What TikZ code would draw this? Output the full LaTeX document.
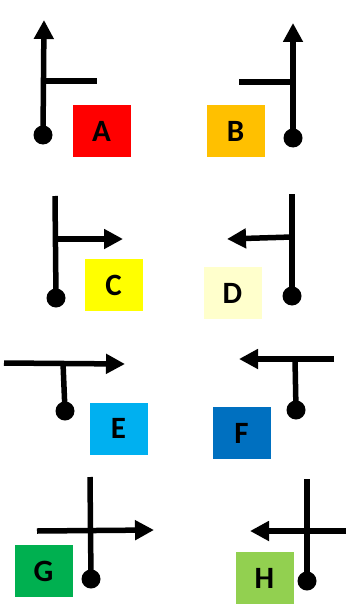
\documentclass[tikz,border=0pt]{standalone}
\usepackage{fontspec}
\setmainfont{Carlito}
\usetikzlibrary{arrows.meta}
\definecolor{signA}{RGB}{255,0,0}
\definecolor{signB}{RGB}{255,192,0}
\definecolor{signC}{RGB}{255,255,0}
\definecolor{signD}{RGB}{255,255,204}
\definecolor{signE}{RGB}{0,176,240}
\definecolor{signF}{RGB}{0,112,192}
\definecolor{signG}{RGB}{0,176,80}
\definecolor{signH}{RGB}{146,208,80}

\begin{document}
\begin{tikzpicture}[x=1pt,y=-1pt]

%
% Styles
%
\tikzstyle{tag} = [rectangle,minimum width=58pt,minimum height=52pt,inner sep=0pt,font=\fontsize{31}{31}\selectfont\bfseries]
\tikzstyle{endpt} = [circle,fill=black,minimum size=19pt,inner sep=0pt]
\tikzstyle{road} = [line width=5.5pt]
\tikzstyle{go} = [road,-{Triangle[length=19pt,width=19pt]}]

\useasboundingbox (0,0) rectangle (351,607);

% A
\node[tag,fill=signA] (A) at (101.5,131) {A};
\node[endpt] (a0) at (43,135) {};
\coordinate (a1) at (44,20);
\coordinate (a2) at (44,81);
\coordinate (a3) at (97,81);
\draw[go] (a0.center) -- (a1);
\draw[road] (a2) -- (a3);

% B
\node[tag,fill=signB] (B) at (235.5,131) {B};
\node[endpt] (b0) at (293,138) {};
\coordinate (b1) at (293,23);
\coordinate (b2) at (293,82);
\coordinate (b3) at (239,82);
\draw[go] (b0.center) -- (b1);
\draw[road] (b2) -- (b3);

% C
\node[tag,fill=signC] (C) at (113.5,285) {C};
\node[endpt] (c0) at (56,298) {};
\coordinate (c1) at (55,196);
\coordinate (c2) at (55,239);
\coordinate (c3) at (123,239);
\draw[road] (c0.center) -- (c1);
\draw[go] (c2) -- (c3);

% D
\node[tag,fill=signD] (D) at (232.5,293) {D};
\node[endpt] (d0) at (292,296) {};
\coordinate (d1) at (292,194);
\coordinate (d2) at (292,237);
\coordinate (d3) at (227,239);
\draw[road] (d0.center) -- (d1);
\draw[go] (d2) -- (d3);

% E
\node[tag,fill=signE] (E) at (118.5,428.5) {E};
\node[endpt] (e0) at (65,411) {};
\coordinate (e1) at (4,363);
\coordinate (e2) at (125,364);
\coordinate (e3) at (63,363);
\draw[go] (e1) -- (e2);
\draw[road] (e0.center) -- (e3);

% F
\node[tag,fill=signF] (F) at (241.5,433) {F};
\node[endpt] (f0) at (296,410) {};
\coordinate (f1) at (334,359);
\coordinate (f2) at (239,359);
\coordinate (f3) at (295,359);
\draw[go] (f1) -- (f2);
\draw[road] (f0.center) -- (f3);

% G
\node[tag,fill=signG] (G) at (43.5,571) {G};
\node[endpt] (g0) at (91,579) {};
\coordinate (g1) at (90,477);
\coordinate (g2) at (37,531);
\coordinate (g3) at (154,530);
\draw[road] (g0.center) -- (g1);
\draw[go] (g2) -- (g3);

% H
\node[tag,fill=signH] (H) at (264.5,578) {H};
\node[endpt] (h0) at (307,581) {};
\coordinate (h1) at (307,479);
\coordinate (h2) at (346,531);
\coordinate (h3) at (250,531);
\draw[road] (h0.center) -- (h1);
\draw[go] (h2) -- (h3);

\end{tikzpicture}
\end{document}
